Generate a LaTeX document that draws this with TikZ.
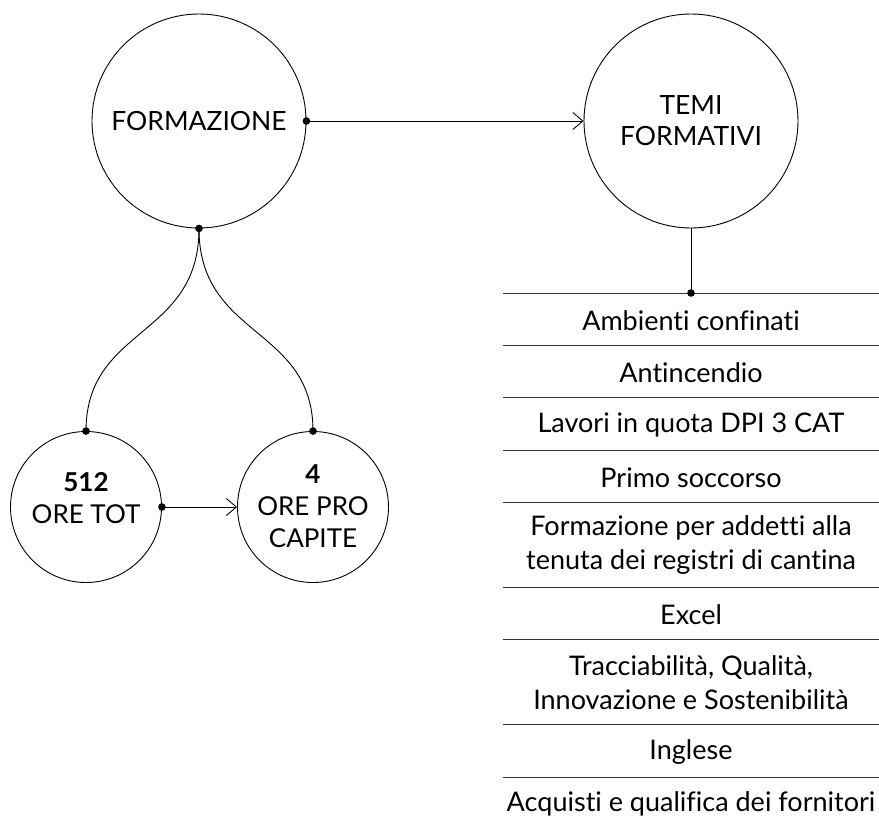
\documentclass[tikz,border=0pt]{standalone}
\usepackage{fontspec}
\setmainfont{Lato}[Ligatures=NoCommon]
\usetikzlibrary{arrows.meta}
\begin{document}
\begin{tikzpicture}[x=1pt,y=-1pt,
  bigc/.style={circle,draw,line width=0.9pt,minimum size=214pt,inner sep=0pt,font=\fontsize{26.5}{31}\selectfont,align=center},
  smallc/.style={circle,draw,line width=0.9pt,minimum size=151pt,inner sep=0pt},
  txt/.style={font=\fontsize{26}{32}\selectfont,align=center,inner sep=0pt},
  item/.style={font=\fontsize{27}{34}\selectfont,align=center,inner sep=0pt},
  conn/.style={line width=0.9pt},
  arr/.style={line width=0.9pt,-{Straight Barb[length=10pt,width=17pt,line width=0.9pt]}},
  sep/.style={line width=1pt,black!80},
  dot/.style={fill=black}]
\useasboundingbox (0,0) rectangle (879,820);
\fill[white] (0,0) rectangle (879,820);
% big circles
\node[bigc] (form) at (199,121) {FORMAZIONE};
\node[bigc] (temi) at (691,121) {TEMI\\FORMATIVI};
% small circles
\node[smallc] (tot) at (86,507) {};
\node[smallc] (cap) at (313,507) {};
\node[txt] (totnum) at (86,482) {\bfseries 512};
\node[txt] (totlab) at (86,514) {ORE TOT};
\node[txt] (capnum) at (313,474) {\bfseries 4};
\node[txt] (caplab) at (313,522) {ORE PRO\\CAPITE};
% connectors
\draw[arr] (form.east) -- (temi.west);
\draw[arr] (tot.east) -- (cap.west);
\draw[conn] (form.south) .. controls +(0,110) and +(0,-105) .. (tot.north);
\draw[conn] (form.south) .. controls +(0,110) and +(0,-105) .. (cap.north);
% list
\coordinate (listtop) at (691,293);
\draw[conn] (temi.south) -- (listtop);
\foreach \y in {293,345,397,450,502,587,639,724,777}
  \draw[sep] (503,\y) -- (879,\y);
\node[item] (i1) at (691,321) {Ambienti confinati};
\node[item] (i2) at (691,373) {Antincendio};
\node[item] (i3) at (691,425) {Lavori in quota DPI 3 CAT};
\node[item] (i4) at (691,478) {Primo soccorso};
\node[item] (i5) at (691,545) {Formazione per addetti alla\\tenuta dei registri di cantina};
\node[item] (i6) at (691,615) {Excel};
\node[item] (i7) at (691,683) {Tracciabilità, Qualità,\\Innovazione e Sostenibilità};
\node[item] (i8) at (691,752) {Inglese};
\node[item] (i9) at (691,804) {Acquisti e qualifica dei fornitori};
% dots
\foreach \p in {form.east,form.south,tot.north,cap.north,tot.east,listtop}
  \fill[dot] (\p) circle (3.8pt);
\end{tikzpicture}
\end{document}
